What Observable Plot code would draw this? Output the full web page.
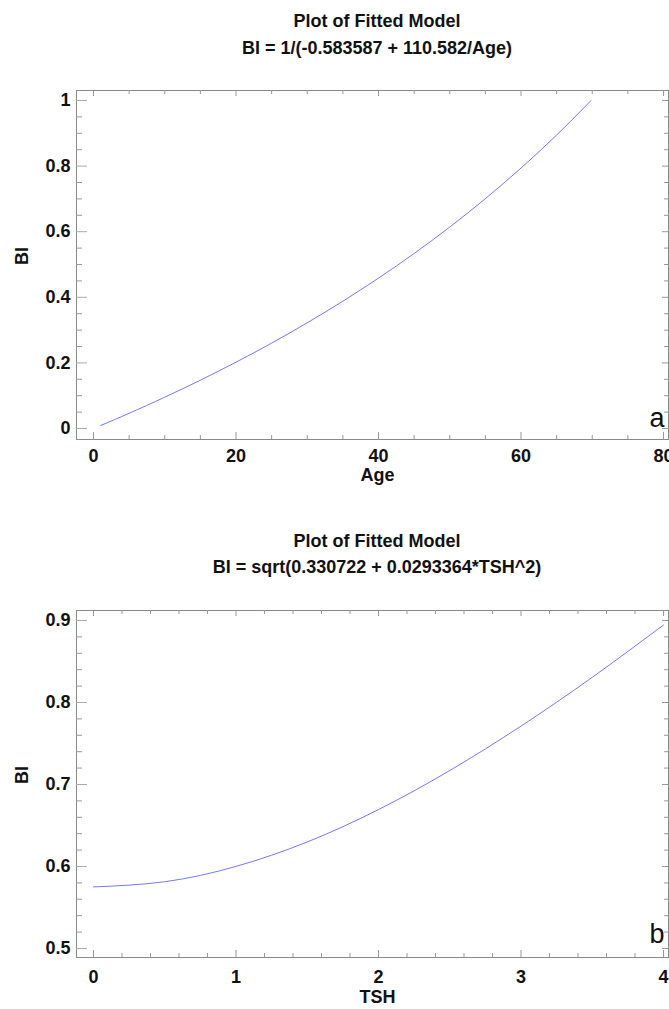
<!DOCTYPE html>
<html>
<head>
<meta charset="utf-8">
<script src="https://cdn.jsdelivr.net/npm/d3@7"></script>
<script src="https://cdn.jsdelivr.net/npm/@observablehq/plot@0.6"></script>
<style>
  html, body { margin: 0; padding: 0; background: #fff; }
  #root { position: relative; width: 669px; height: 1009px; overflow: hidden; font-family: "Liberation Sans", Arial, sans-serif; }
  .title { position: absolute; left: 377px; transform: translateX(-50%); white-space: nowrap; font-weight: bold; font-size: 18px; color: #111; line-height: 27px; text-align: center; }
  .panel { position: absolute; left: 0; }
</style>
</head>
<body>
<div id="root"></div>
<script>
// ---- Panel a data ----
const titleA = "Plot of Fitted Model";
const subtitleA = "BI = 1/(-0.583587 + 110.582/Age)";
const ageValues = [1, 5, 10, 15, 20, 25, 30, 35, 40, 45, 50, 55, 60, 65, 69.8];
const biValuesA = [0.0091, 0.0464, 0.0955, 0.1473, 0.2022, 0.2604, 0.3223, 0.3882, 0.4585, 0.5337, 0.6142, 0.7008, 0.7940, 0.8947, 0.9993];
const xMajorA = [0, 20, 40, 60, 80];
const xMinorA = [5, 10, 15, 25, 30, 35, 45, 50, 55, 65, 70, 75];
const yMajorA = [0, 0.2, 0.4, 0.6, 0.8, 1];
const yMinorA = [0.05, 0.1, 0.15, 0.25, 0.3, 0.35, 0.45, 0.5, 0.55, 0.65, 0.7, 0.75, 0.85, 0.9, 0.95];
const xLabelA = "Age";
const tagA = "a";

// ---- Panel b data ----
const titleB = "Plot of Fitted Model";
const subtitleB = "BI = sqrt(0.330722 + 0.0293364*TSH^2)";
const tshValues = [0, 0.5, 1, 1.5, 2, 2.5, 3, 3.5, 4];
const biValuesB = [0.5751, 0.5814, 0.6001, 0.6299, 0.6694, 0.7170, 0.7712, 0.8307, 0.8945];
const xMajorB = [0, 1, 2, 3, 4];
const xMinorB = [0.2, 0.4, 0.6, 0.8, 1.2, 1.4, 1.6, 1.8, 2.2, 2.4, 2.6, 2.8, 3.2, 3.4, 3.6, 3.8];
const yMajorB = [0.5, 0.6, 0.7, 0.8, 0.9];
const yMinorB = [0.52, 0.54, 0.56, 0.58, 0.62, 0.64, 0.66, 0.68, 0.72, 0.74, 0.76, 0.78, 0.82, 0.84, 0.86, 0.88];
const xLabelB = "TSH";
const tagB = "b";
const yLabel = "BI";

const W = 669, ML = 76, MR = 1;
const FW = W - ML - MR;
const fontFamily = '"Liberation Sans", Arial, sans-serif';

function panel(o) {
  const FH = o.height - o.marginTop - o.marginBottom;
  const rows = o.xs.map((x, i) => ({x, y: o.ys[i]}));
  return Plot.plot({
    width: W,
    height: o.height,
    marginLeft: ML,
    marginRight: MR,
    marginTop: o.marginTop,
    marginBottom: o.marginBottom,
    style: {fontFamily, background: "white", overflow: "visible"},
    x: {domain: o.xDomain},
    y: {domain: o.yDomain},
    marks: [
      Plot.frame({stroke: "#8a8a8a"}),
      // bottom ticks (inward)
      Plot.tickX(o.xMajor, {x: d => d, insetTop: FH - 7, stroke: "#999"}),
      Plot.tickX(o.xMinor, {x: d => d, insetTop: FH - 4, stroke: "#999"}),
      // top ticks
      Plot.tickX(o.xMajor, {x: d => d, insetBottom: FH - 6, stroke: "#999"}),
      Plot.tickX(o.xMinor, {x: d => d, insetBottom: FH - 4, stroke: "#999"}),
      // left ticks
      Plot.tickY(o.yMajor, {y: d => d, insetRight: FW - 11, stroke: "#aaa"}),
      Plot.tickY(o.yMinor, {y: d => d, insetRight: FW - 6, stroke: "#999"}),
      // right ticks
      Plot.tickY(o.yMajor, {y: d => d, insetLeft: FW - 6, stroke: "#999"}),
      Plot.tickY(o.yMinor, {y: d => d, insetLeft: FW - 4, stroke: "#999"}),
      Plot.axisX({ticks: o.xMajor, tickSize: 0, tickPadding: o.xPad, fontSize: 18, fontWeight: "bold", fill: "#111", label: null, tickFormat: d => String(d)}),
      Plot.axisY({ticks: o.yMajor, tickSize: 0, tickPadding: 6, fontSize: 18, fontWeight: "bold", fill: "#111", label: null, tickFormat: d => String(d)}),
      Plot.line(rows, {x: "x", y: "y", stroke: "#7878ff", strokeWidth: 1, curve: "natural"}),
      Plot.text([o.xLabel], {text: d => d, frameAnchor: "bottom", dx: 5, dy: o.labelDy, fontSize: 18, fontWeight: "bold", fill: "#111"}),
      Plot.text([yLabel], {text: d => d, frameAnchor: "left", dx: -54, rotate: -90, fontSize: 18, fontWeight: "bold", fill: "#111"}),
      Plot.text([o.tag], {text: d => d, frameAnchor: "bottom-right", textAnchor: "end", lineAnchor: "bottom", dx: -4, dy: o.tagDy, fontSize: 27, fill: "#111"})
    ]
  });
}

const root = document.getElementById("root");
function addTitle(text, top) {
  const d = document.createElement("div");
  d.className = "title";
  d.style.top = top + "px";
  d.textContent = text;
  root.appendChild(d);
}
function addPanel(svg, top) {
  const wrap = document.createElement("div");
  wrap.className = "panel";
  wrap.style.top = top + "px";
  wrap.appendChild(svg);
  root.appendChild(wrap);
}

addTitle(titleA, 8);
addTitle(subtitleA, 35);
addPanel(panel({
  height: 440, marginTop: 30, marginBottom: 61,
  xDomain: [-2.386, 80.70], yDomain: [-0.0335, 1.0305],
  xMajor: xMajorA, xMinor: xMinorA, yMajor: yMajorA, yMinor: yMinorA,
  xs: ageValues, ys: biValuesA, xLabel: xLabelA, tag: tagA, tagDy: -13, xPad: 10, labelDy: 41
}), 60);

addTitle(titleB, 528);
addTitle(subtitleB, 554);
addPanel(panel({
  height: 429, marginTop: 30, marginBottom: 52,
  xDomain: [-0.1193, 4.0351], yDomain: [0.489, 0.9122],
  xMajor: xMajorB, xMinor: xMinorB, yMajor: yMajorB, yMinor: yMinorB,
  xs: tshValues, ys: biValuesB, xLabel: xLabelB, tag: tagB, tagDy: -15, xPad: 13, labelDy: 45
}), 580);
</script>
</body>
</html>
